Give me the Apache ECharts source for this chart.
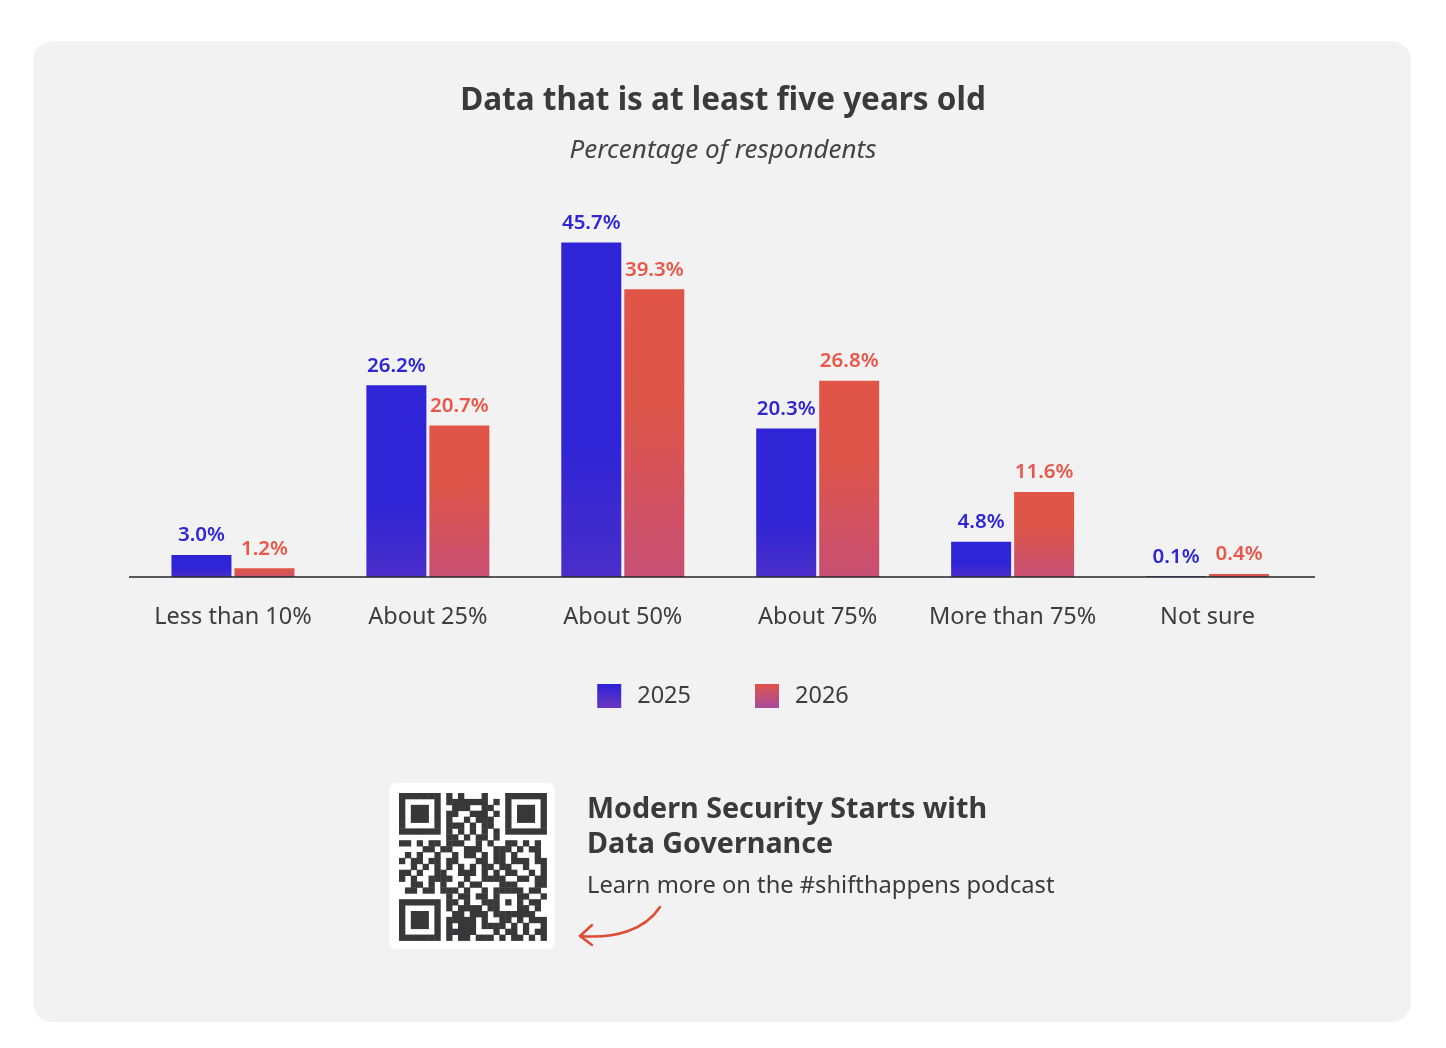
<!DOCTYPE html>
<html>
<head>
<meta charset="utf-8">
<script src="https://cdn.jsdelivr.net/npm/echarts@6/dist/echarts.min.js"></script>
<style>
html,body{margin:0;padding:0;background:#fff}
#chart{width:1446px;height:1048px}
</style>
</head>
<body>
<div id="chart"></div>
<script>
var categories=['Less than 10%','About 25%','About 50%','About 75%','More than 75%','Not sure']
var y2025=[3.0,26.2,45.7,20.3,4.8,0.1]
var y2026=[1.2,20.7,39.3,26.8,11.6,0.4]
var seriesNames=['2025','2026']

// qr code pattern (decoration only)
var F0='1111111',F1='1000001',F2='1011101'
var qrRows=[
	F0+'0'+'101000100'+'0'+F0,
	F1+'0'+'111111101'+'0'+F1,
	F2+'0'+'011100110'+'0'+F2,
	F2+'0'+'110011101'+'0'+F2,
	F2+'0'+'100101110'+'0'+F2,
	F1+'0'+'111010110'+'0'+F1,
	F0+'0'+'101010101'+'0'+F0,
	'0000000'+'0'+'110101101'+'0'+'0000000',
	'1101011011100101001101010',
	'0000110110011100111010110',
	'0101001001011010110100010',
	'1011011011000110110111011',
	'0010101010101011011001001',
	'1101001100111010101100101',
	'1010011110010011110011011',
	'0011010100101100011100011',
	'0110110111010010'+'11111'+'0110',
	'00000000'+'10110110'+'10001'+'1001',
	F0+'0'+'11010011'+'10101'+'0110',
	F1+'0'+'10111101'+'10001'+'1010',
	F2+'0'+'01101110'+'11111'+'1100',
	F2+'0'+'11111010'+'01101'+'0111',
	F2+'0'+'10111011'+'11010'+'1001',
	F1+'0'+'11111000'+'10110'+'1011',
	F0+'0'+'10110111'+'01011'+'0101'
]

var font='Noto Sans'
var mychart=echarts.init(document.getElementById('chart'))

function grad(stops){
	return {type:'linear',x:0,y:0,x2:0,y2:1,
		colorStops:stops.map(function(s){return {offset:s[0],color:s[1]}})}
}

var qrCells=[]
var m=5.9
for(var r=0;r<qrRows.length;r++){
	for(var c=0;c<qrRows[r].length;c++){
		if(qrRows[r][c]==='1'){
			qrCells.push({type:'rect',z:3,shape:{x:399+c*m,y:793+r*m,width:m+0.4,height:m+0.4},style:{fill:'#38383a'}})
		}
	}
}

var labelFmt=function(p){return p.value.toFixed(1)+'%'}

var option={
	backgroundColor:'#ffffff',
	textStyle:{fontFamily:font},
	title:[
		{text:'Data that is at least five years old',left:'center',top:80,
			textStyle:{fontFamily:font,fontSize:31.5,fontWeight:'bold',color:'#3a3a3a'}},
		{text:'Percentage of respondents',left:'center',top:133,
			textStyle:{fontFamily:font,fontSize:26,fontStyle:'italic',fontWeight:'normal',color:'#444444'}}
	],
	legend:{
		top:679,left:'center',
		itemWidth:24,itemHeight:24,itemGap:64,
		icon:'rect',
		textStyle:{fontFamily:font,fontSize:23.5,color:'#3d3d3d',padding:[0,0,0,11]},
		data:[
			{name:'2025',itemStyle:{color:grad([[0,'#2b22d8'],[1,'#6c37bf']])}},
			{name:'2026',itemStyle:{color:grad([[0,'#e0534a'],[1,'#a64c9c']])}}
		]
	},
	grid:{left:135.5,right:141,top:211,bottom:471},
	xAxis:{
		type:'category',
		data:categories,
		axisLine:{show:false},
		axisTick:{show:false},
		axisLabel:{interval:0,fontFamily:font,fontSize:23.5,color:'#3d3d3d',margin:28}
	},
	yAxis:{type:'value',min:0,max:50,show:false,splitLine:{show:false}},
	series:[
		{
			name:seriesNames[0],type:'bar',data:y2025,barWidth:60,barGap:'5%',
			itemStyle:{color:grad([[0,'#2f24d6'],[0.6,'#2f24d6'],[1,'#4a2ec9']])},
			label:{show:true,position:'top',distance:9,fontFamily:font,fontSize:20.5,fontWeight:600,color:'#3027d2',formatter:labelFmt}
		},
		{
			name:seriesNames[1],type:'bar',data:y2026,barWidth:60,barGap:'5%',
			itemStyle:{color:grad([[0,'#e05548'],[0.4,'#dd5549'],[1,'#c84f74']])},
			label:{show:true,position:'top',distance:9,fontFamily:font,fontSize:20.5,fontWeight:600,color:'#e8574a',formatter:labelFmt}
		}
	],
	graphic:[
		{type:'rect',z:-10,shape:{x:33,y:41,width:1378,height:981,r:20},style:{fill:'#f1f2f1'}},
		{type:'line',z:10,shape:{x1:129,y1:577,x2:1315,y2:577},style:{stroke:'#262626',lineWidth:1.5}},
		{type:'rect',z:1,shape:{x:389,y:783,width:166,height:166,r:8},style:{fill:'#ffffff'}},
		{type:'group',children:qrCells},
		{type:'text',z:2,x:587,y:792,style:{text:'Modern Security Starts with\nData Governance',
			font:'bold 28.7px "Noto Sans"',fill:'#3a3a3a',lineHeight:35}},
		{type:'text',z:2,x:587,y:874,style:{text:'Learn more on the #shifthappens podcast',
			font:'23.7px "Noto Sans"',fill:'#3a3a3a'}},
		{type:'bezierCurve',z:2,shape:{x1:660,y1:907,cpx1:645,cpy1:930,cpx2:615,cpy2:939,x2:580,y2:936},
			style:{fill:null,stroke:'#de4c36',lineWidth:2.5,lineCap:'round'}},
		{type:'polyline',z:2,shape:{points:[[592,925],[580,936],[592,945]]},
			style:{fill:null,stroke:'#de4c36',lineWidth:2.5,lineCap:'round',lineJoin:'round'}}
	]
}
mychart.setOption(option)
</script>
</body>
</html>
